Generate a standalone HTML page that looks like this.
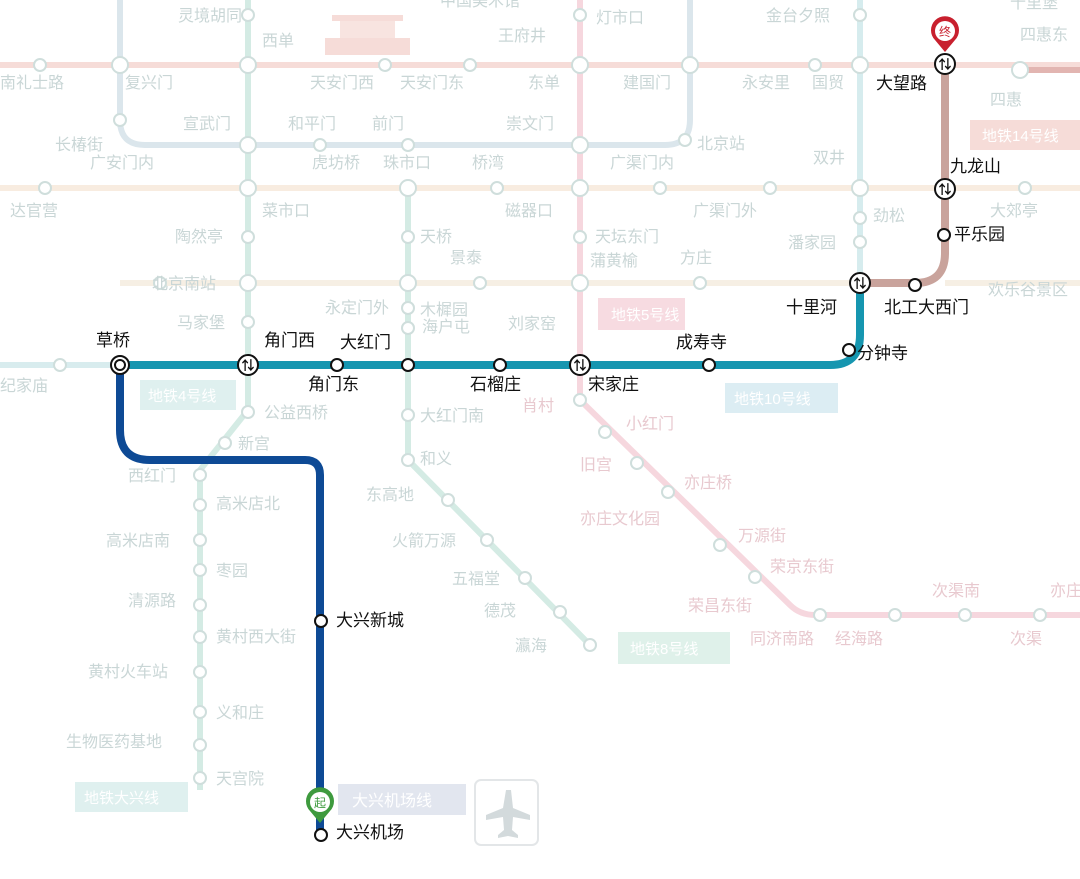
<!DOCTYPE html>
<html><head><meta charset="utf-8"><style>
html,body{margin:0;padding:0;background:#fff;}
svg{display:block;font-family:"Liberation Sans","Noto Sans CJK SC",sans-serif;}
.f{fill:#c9d6d6;font-size:16px;}
.fp{fill:#e8c9cf;font-size:16px;}
.b{fill:#111;font-size:17px;}
.fs{fill:#fff;stroke:#cfdedc;stroke-width:2;}
.bs{fill:#fff;stroke:#111;stroke-width:2;}
</style></head><body>
<svg width="1080" height="879" viewBox="0 0 1080 879" xmlns="http://www.w3.org/2000/svg">
<rect width="1080" height="879" fill="#fff"/>
<!-- faded lines -->
<path d="M0 65 H1080" stroke="#f6dcd8" stroke-width="6" fill="none"/>
<path d="M1015 70 H1080" stroke="#e2b5b1" stroke-width="6" fill="none"/>
<path d="M120 0 V120 Q120 145 145 145 H665 Q690 145 690 120 V0" stroke="#dbe6ec" stroke-width="6" fill="none"/>
<path d="M0 188 H1080" stroke="#f8ece0" stroke-width="6" fill="none"/>
<path d="M120 283 H860" stroke="#f6efe4" stroke-width="6" fill="none"/>
<path d="M945 283 H1080" stroke="#f6efe4" stroke-width="6" fill="none"/>
<path d="M0 365 H120" stroke="#d8ecee" stroke-width="6" fill="none"/>
<path d="M860 283 V0" stroke="#d6ecee" stroke-width="6" fill="none"/>
<path d="M248 0 V410 L200 470 V790" stroke="#d4ebe4" stroke-width="6" fill="none"/>
<path d="M408 190 V460 L590 645" stroke="#d4ebe4" stroke-width="6" fill="none"/>
<path d="M580 0 V400 L790 605 Q800 615 815 615 H1080" stroke="#f6d7de" stroke-width="6" fill="none"/>
<!-- faded stations -->
<g class="fs">
<circle cx="248" cy="15" r="6"/><circle cx="248" cy="65" r="8"/><circle cx="120" cy="65" r="8"/><circle cx="40" cy="65" r="6"/>
<circle cx="385" cy="65" r="6"/><circle cx="470" cy="65" r="6"/><circle cx="580" cy="65" r="8"/><circle cx="690" cy="65" r="8"/><circle cx="815" cy="65" r="6"/><circle cx="860" cy="65" r="8"/><circle cx="1020" cy="70" r="8"/>
<circle cx="580" cy="15" r="6"/><circle cx="860" cy="15" r="6"/>
<circle cx="248" cy="145" r="8"/><circle cx="320" cy="145" r="6"/><circle cx="408" cy="145" r="6"/><circle cx="580" cy="145" r="8"/><circle cx="120" cy="120" r="6"/><circle cx="685" cy="140" r="6"/>
<circle cx="45" cy="188" r="6"/><circle cx="248" cy="188" r="8"/><circle cx="408" cy="188" r="8"/><circle cx="497" cy="188" r="6"/><circle cx="580" cy="188" r="8"/><circle cx="660" cy="188" r="6"/><circle cx="770" cy="188" r="6"/><circle cx="860" cy="188" r="8"/><circle cx="1025" cy="188" r="6"/>
<circle cx="248" cy="237" r="6"/><circle cx="408" cy="237" r="6"/><circle cx="580" cy="237" r="6"/><circle cx="860" cy="218" r="6"/><circle cx="860" cy="242" r="6"/>
<circle cx="248" cy="283" r="8"/><circle cx="408" cy="283" r="8"/><circle cx="580" cy="283" r="8"/><circle cx="480" cy="283" r="6"/><circle cx="700" cy="283" r="6"/><circle cx="160" cy="283" r="6"/>
<circle cx="248" cy="322" r="6"/><circle cx="408" cy="308" r="6"/><circle cx="408" cy="328" r="6"/><circle cx="60" cy="365" r="6"/>
<circle cx="248" cy="412" r="6"/><circle cx="225" cy="443" r="6"/><circle cx="200" cy="475" r="6"/><circle cx="200" cy="505" r="6"/><circle cx="200" cy="540" r="6"/><circle cx="200" cy="570" r="6"/><circle cx="200" cy="605" r="6"/><circle cx="200" cy="637" r="6"/><circle cx="200" cy="672" r="6"/><circle cx="200" cy="712" r="6"/><circle cx="200" cy="745" r="6"/><circle cx="200" cy="778" r="6"/>
<circle cx="408" cy="415" r="6"/><circle cx="408" cy="460" r="6"/><circle cx="448" cy="500" r="6"/><circle cx="487" cy="540" r="6"/><circle cx="525" cy="578" r="6"/><circle cx="560" cy="612" r="6"/><circle cx="590" cy="645" r="6"/>
<circle cx="580" cy="400" r="6"/><circle cx="605" cy="432" r="6"/><circle cx="637" cy="463" r="6"/><circle cx="668" cy="492" r="6"/><circle cx="720" cy="545" r="6"/><circle cx="755" cy="577" r="6"/><circle cx="820" cy="615" r="6"/><circle cx="895" cy="615" r="6"/><circle cx="965" cy="615" r="6"/><circle cx="1040" cy="615" r="6"/>
</g>
<!-- palace icon -->
<rect x="325" y="38" width="85" height="17" fill="#f6dcd8"/><rect x="340" y="20" width="55" height="18" fill="#f8e4e0"/><rect x="332" y="15" width="71" height="6" fill="#f6dcd8"/>
<!-- faded labels -->
<g class="f">
<text x="178" y="21">灵境胡同</text><text x="262" y="46">西单</text><text x="498" y="41">王府井</text><text x="596" y="23">灯市口</text><text x="766" y="21">金台夕照</text><text x="440" y="6">中国美术馆</text><text x="1010" y="8">十里堡</text>
<text x="0" y="88">南礼士路</text><text x="125" y="88">复兴门</text><text x="310" y="88">天安门西</text><text x="400" y="88">天安门东</text><text x="528" y="88">东单</text><text x="623" y="88">建国门</text><text x="742" y="88">永安里</text><text x="812" y="88">国贸</text><text x="1020" y="40">四惠东</text><text x="990" y="105">四惠</text>
<text x="183" y="129">宣武门</text><text x="288" y="129">和平门</text><text x="372" y="129">前门</text><text x="506" y="129">崇文门</text><text x="55" y="150">长椿街</text><text x="697" y="149">北京站</text>
<text x="90" y="168">广安门内</text><text x="312" y="168">虎坊桥</text><text x="383" y="168">珠市口</text><text x="472" y="168">桥湾</text><text x="610" y="168">广渠门内</text><text x="813" y="163">双井</text>
<text x="10" y="216">达官营</text><text x="262" y="216">菜市口</text><text x="505" y="216">磁器口</text><text x="693" y="216">广渠门外</text><text x="873" y="221">劲松</text><text x="990" y="216">大郊亭</text>
<text x="175" y="242">陶然亭</text><text x="420" y="242">天桥</text><text x="595" y="242">天坛东门</text><text x="788" y="248">潘家园</text>
<text x="450" y="263">景泰</text><text x="590" y="266">蒲黄榆</text><text x="680" y="263">方庄</text>
<text x="152" y="289">北京南站</text><text x="325" y="313">永定门外</text><text x="420" y="315">木樨园</text><text x="422" y="332">海户屯</text><text x="508" y="329">刘家窑</text><text x="988" y="295">欢乐谷景区</text>
<text x="177" y="328">马家堡</text><text x="0" y="391">纪家庙</text>
<text x="264" y="418">公益西桥</text><text x="238" y="449">新宫</text><text x="128" y="481">西红门</text><text x="216" y="509">高米店北</text><text x="106" y="546">高米店南</text><text x="216" y="576">枣园</text><text x="128" y="606">清源路</text><text x="216" y="642">黄村西大街</text><text x="88" y="677">黄村火车站</text><text x="216" y="718">义和庄</text><text x="66" y="747">生物医药基地</text><text x="216" y="784">天宫院</text>
<text x="420" y="421">大红门南</text><text x="420" y="464">和义</text><text x="366" y="500">东高地</text><text x="392" y="546">火箭万源</text><text x="452" y="584">五福堂</text><text x="484" y="616">德茂</text><text x="515" y="651">瀛海</text>
</g>
<g class="fp">
<text x="522" y="411">肖村</text><text x="626" y="429">小红门</text><text x="580" y="470">旧宫</text><text x="684" y="488">亦庄桥</text><text x="580" y="524">亦庄文化园</text><text x="738" y="541">万源街</text><text x="770" y="572">荣京东街</text><text x="688" y="611">荣昌东街</text><text x="750" y="644">同济南路</text><text x="835" y="644">经海路</text><text x="932" y="596">次渠南</text><text x="1010" y="644">次渠</text><text x="1050" y="596">亦庄</text>
</g>
<!-- line labels -->
<rect x="598" y="298" width="87" height="32" fill="#f7dbe1"/><text x="611" y="320" fill="#fff" font-size="15">地铁5号线</text>
<rect x="970" y="120" width="110" height="30" fill="#f6dcd8"/><text x="982" y="141" fill="#fff" font-size="15">地铁14号线</text>
<rect x="140" y="380" width="96" height="30" fill="#dff0ef"/><text x="148" y="401" fill="#fff" font-size="15">地铁4号线</text>
<rect x="725" y="383" width="113" height="30" fill="#dcedf3"/><text x="734" y="404" fill="#fff" font-size="15">地铁10号线</text>
<rect x="618" y="632" width="112" height="32" fill="#dff1ea"/><text x="630" y="654" fill="#fff" font-size="15">地铁8号线</text>
<rect x="75" y="782" width="113" height="30" fill="#dff0ef"/><text x="84" y="803" fill="#fff" font-size="15">地铁大兴线</text>
<rect x="338" y="784" width="128" height="31" fill="#e2e6ef"/><text x="352" y="806" fill="#fff" font-size="16">大兴机场线</text>
<rect x="475" y="780" width="63" height="65" rx="6" fill="#fff" stroke="#e3e6e8" stroke-width="2"/>
<path d="M506 790 L511 790 L513 808 L530 815 L530 820 L513 817 L512 830 L518 835 L518 838 L508 836 L498 838 L498 835 L504 830 L503 817 L486 820 L486 815 L503 808 Z" fill="#d3dadc"/>
<!-- highlighted route -->
<path d="M120 365 H830 Q860 365 860 335 V283" stroke="#1696b0" stroke-width="8" fill="none"/>
<path d="M860 283 H915 Q945 283 945 253 V65" stroke="#c9a39c" stroke-width="8" fill="none"/>
<path d="M120 365 V430 Q120 460 150 460 H305 Q320 460 320 475 V835" stroke="#0e4a95" stroke-width="8" fill="none"/>
<!-- stations -->
<g class="bs">
<circle cx="337" cy="365" r="6"/><circle cx="408" cy="365" r="6"/><circle cx="500" cy="365" r="6"/><circle cx="709" cy="365" r="6"/><circle cx="849" cy="350" r="6"/><circle cx="915" cy="285" r="6"/><circle cx="944" cy="235" r="6"/><circle cx="321" cy="621" r="6"/><circle cx="321" cy="835" r="6"/>
<circle cx="120" cy="365" r="9"/><circle cx="120" cy="365" r="5"/>
</g>
<g>
<g class="bs"><circle cx="248" cy="365" r="10"/><circle cx="580" cy="365" r="10"/><circle cx="860" cy="283" r="10"/><circle cx="945" cy="189" r="10"/><circle cx="945" cy="64" r="10"/></g>
<g font-size="13" fill="#111" text-anchor="middle" font-weight="bold"><text x="248" y="370">⇅</text><text x="580" y="370">⇅</text><text x="860" y="288">⇅</text><text x="945" y="194">⇅</text><text x="945" y="69">⇅</text></g>
</g>
<!-- markers -->
<path d="M945 52 L935 40 A14 14 0 1 1 955 40 Z" fill="#c8202e"/><circle cx="945" cy="31" r="10" fill="#fff"/><text x="945" y="36" font-size="12" fill="#c8202e" text-anchor="middle">终</text>
<path d="M320 823 L310 811 A14 14 0 1 1 330 811 Z" fill="#3e9a3e"/><circle cx="320" cy="802" r="10" fill="#fff"/><text x="320" y="807" font-size="12" fill="#3e9a3e" text-anchor="middle">起</text>
<!-- bold labels -->
<g class="b">
<text x="96" y="346">草桥</text><text x="264" y="346">角门西</text><text x="340" y="348">大红门</text><text x="308" y="390">角门东</text><text x="470" y="390">石榴庄</text><text x="588" y="390">宋家庄</text><text x="676" y="348">成寿寺</text><text x="786" y="313">十里河</text><text x="857" y="359">分钟寺</text><text x="884" y="313">北工大西门</text><text x="954" y="240">平乐园</text><text x="950" y="172">九龙山</text><text x="876" y="89">大望路</text><text x="336" y="626">大兴新城</text><text x="336" y="838">大兴机场</text>
</g>
</svg>
</body></html>
